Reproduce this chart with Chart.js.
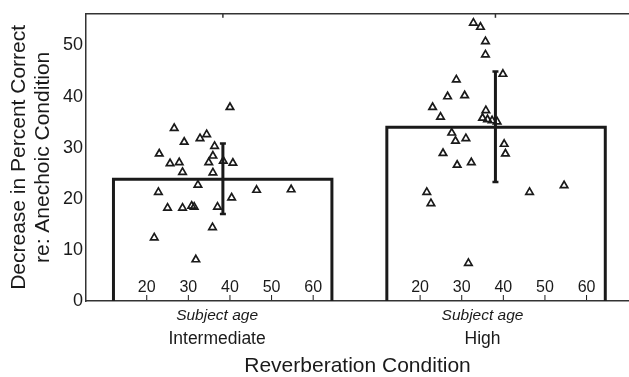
<!DOCTYPE html>
<html lang="en">
<head>
<meta charset="UTF-8">
<title>Reverberation Condition</title>
<script src="https://cdn.jsdelivr.net/npm/chart.js"></script>
<style>
  html, body { margin: 0; padding: 0; background: #fff; }
</style>
</head>
<body>
<canvas id="reverbChart" width="629" height="377"></canvas>
<script>
const conditions = ['Intermediate', 'High'];
const meanDecrease = [23.8, 34.0];
const errLow = [17.0, 23.3];
const errHigh = [30.8, 44.9];
const meanAge = [38.3, 38.1];
const ageTicks = [20, 30, 40, 50, 60];
const yTicks = [0, 10, 20, 30, 40, 50];

const intAges = [40.0, 26.6, 34.4, 32.8, 29.0, 36.3, 23.0, 35.9, 25.6, 27.8, 34.9, 38.4, 40.7, 28.6,
                 35.9, 32.3, 22.8, 46.4, 54.7, 40.4, 25.0, 28.6, 30.8, 31.4, 37.0, 35.8, 21.8, 31.8];
const intScores = [37.9, 33.8, 32.6, 31.8, 31.1, 30.3, 28.8, 28.4, 26.9, 27.1, 27.1, 27.4, 27.0, 25.2,
                   25.1, 22.7, 21.3, 21.7, 21.8, 20.2, 18.2, 18.2, 18.6, 18.4, 18.4, 14.4, 12.4, 8.1];
const highAges = [32.8, 34.5, 35.7, 35.7, 39.9, 28.7, 26.6, 30.7, 23.0, 24.9, 35.8, 35.0, 36.2, 37.3,
                  38.5, 27.6, 28.5, 31.0, 40.2, 40.5, 25.5, 28.9, 32.3, 21.6, 22.6, 46.3, 54.6, 31.6];
const highScores = [54.4, 53.6, 50.8, 48.2, 44.4, 43.3, 40.0, 40.2, 37.9, 36.0, 37.3, 35.8, 35.5, 35.3,
                    35.1, 32.9, 31.3, 31.8, 30.7, 28.8, 28.9, 26.6, 27.1, 21.3, 19.1, 21.3, 22.6, 7.4];

// both panels share one x axis in age units, the second one shifted right
const panelShift = [0, 65.7];
const boxAges = [12, 64.5];
const labelAge = [36.9, 35.0];
const xMin = 5.4, xMax = 135.9, yMax = 56.2;

const ink = '#1a1a1a';
const fontFamily = "'Liberation Sans', Arial, Helvetica, sans-serif";
Chart.defaults.font.family = fontFamily;
Chart.defaults.color = ink;

const groups = [[intAges, intScores], [highAges, highScores]];
const datasets = [];

conditions.forEach((c, i) => {
    const s = panelShift[i];
    datasets.push({
        label: c + ' mean',
        data: [
            {x: boxAges[0] + s, y: 0},
            {x: boxAges[0] + s, y: meanDecrease[i]},
            {x: boxAges[1] + s, y: meanDecrease[i]},
            {x: boxAges[1] + s, y: 0}
        ],
        showLine: true,
        borderColor: ink,
        borderWidth: 3,
        borderJoinStyle: 'miter',
        pointRadius: 0,
        fill: false
    });
});

conditions.forEach((c, i) => {
    const [ages, scores] = groups[i];
    datasets.push({
        label: c,
        data: ages.map((a, k) => ({x: a + panelShift[i], y: scores[k]})),
        pointStyle: 'triangle',
        pointRadius: 4.3,
        borderColor: ink,
        borderWidth: 1.7,
        backgroundColor: 'rgba(0,0,0,0)'
    });
});

conditions.forEach((c, i) => {
    const x = meanAge[i] + panelShift[i];
    datasets.push({
        label: c + ' error',
        data: [{x: x, y: errLow[i]}, {x: x, y: errHigh[i]}],
        showLine: true,
        borderColor: ink,
        borderWidth: 3,
        pointStyle: 'line',
        pointRadius: 3,
        pointBorderWidth: 2.5,
        pointBorderColor: ink
    });
});

const decor = {
    id: 'decor',
    afterDraw(chart) {
        const ctx = chart.ctx;
        const area = chart.chartArea;
        const xs = chart.scales.x;
        ctx.save();
        // top frame line and its ticks
        ctx.strokeStyle = '#333';
        ctx.lineWidth = 1.5;
        ctx.beginPath();
        ctx.moveTo(area.left, area.top);
        ctx.lineTo(area.right, area.top);
        ctx.stroke();
        conditions.forEach((c, i) => {
            const px = xs.getPixelForValue(meanAge[i] + panelShift[i]);
            ctx.beginPath();
            ctx.moveTo(px, area.top);
            ctx.lineTo(px, area.top + 4);
            ctx.stroke();
        });

        conditions.forEach((c, i) => {
            const s = panelShift[i];
            ctx.fillStyle = ink;
            ctx.strokeStyle = ink;
            ctx.lineWidth = 1;
            ctx.textAlign = 'center';
            ctx.textBaseline = 'middle';
            ctx.font = '16px ' + fontFamily;
            ageTicks.forEach(a => {
                const px = xs.getPixelForValue(a + s);
                ctx.beginPath();
                ctx.moveTo(px, area.bottom - 1);
                ctx.lineTo(px, area.bottom - 6);
                ctx.stroke();
                ctx.fillText(String(a), px, area.bottom - 13);
            });
            const lx = xs.getPixelForValue(labelAge[i] + s);
            ctx.font = 'italic 15.5px ' + fontFamily;
            ctx.fillText('Subject age', lx, area.bottom + 15);
            ctx.font = '17.5px ' + fontFamily;
            ctx.fillText(c, lx, area.bottom + 38);
        });
        ctx.restore();
    }
};

new Chart(document.getElementById('reverbChart'), {
    type: 'scatter',
    data: { datasets: datasets },
    options: {
        responsive: false,
        animation: false,
        layout: { autoPadding: false, padding: { top: 10, left: 0, right: 0, bottom: 0 } },
        plugins: {
            legend: { display: false },
            tooltip: { enabled: false }
        },
        scales: {
            x: {
                type: 'linear',
                min: xMin,
                max: xMax,
                grid: { display: false, drawTicks: false },
                border: { display: true, color: '#333', width: 1.5 },
                ticks: { display: false },
                title: {
                    display: true,
                    text: 'Reverberation Condition',
                    font: { size: 21, lineHeight: 1 },
                    padding: 0,
                    color: ink
                },
                afterFit(scale) { scale.height = 76; }
            },
            y: {
                min: 0,
                max: yMax,
                afterBuildTicks(scale) { scale.ticks = yTicks.map(v => ({value: v})); },
                grid: { display: false, drawTicks: false },
                border: { display: true, color: '#333', width: 1.5 },
                ticks: { font: { size: 18 }, padding: 3, color: ink },
                title: {
                    display: true,
                    text: ['Decrease in Percent Correct', 're: Anechoic Condition'],
                    font: { size: 21, lineHeight: 1.15 },
                    padding: { top: 7, bottom: 0 },
                    color: ink
                },
                afterFit(scale) { scale.width = 86; }
            }
        }
    },
    plugins: [decor]
});
</script>
</body>
</html>
